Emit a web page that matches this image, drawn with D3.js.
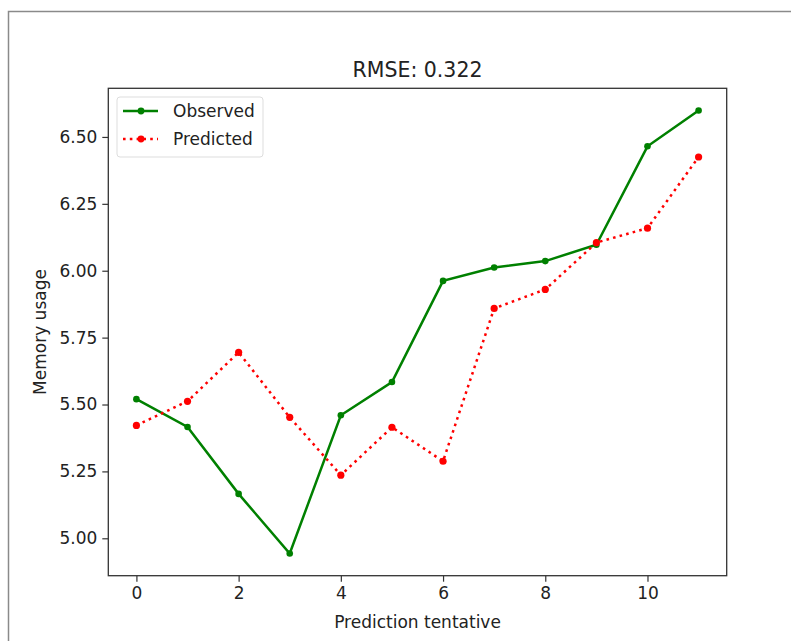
<!DOCTYPE html>
<html><head><meta charset="utf-8">
<script src="https://cdn.jsdelivr.net/npm/d3@7"></script>
<style>body{margin:0;background:#fff}svg{display:block}text{font-family:"DejaVu Sans",sans-serif;fill:#222}</style>
</head><body><div id="c"></div>
<script>
const tentatives = [0,1,2,3,4,5,6,7,8,9,10,11];
const observed  = [5.520,5.416,5.166,4.943,5.460,5.584,5.962,6.012,6.036,6.097,6.465,6.599];
const predicted = [5.422,5.512,5.695,5.452,5.236,5.415,5.288,5.859,5.930,6.105,6.159,6.425];
const xTicks = [0,2,4,6,8,10];
const yTicks = [5.00,5.25,5.50,5.75,6.00,6.25,6.50];
const titleText = "RMSE: 0.322";
const seriesNames = ["Observed","Predicted"];

const W=791,H=641;
const m={left:108.3,top:88.3,right:726.7,bottom:575.7};
const svg=d3.select("#c").append("svg").attr("width",W).attr("height",H);
svg.append("rect").attr("width",W).attr("height",H).attr("fill","#fff");
// outer frame
svg.append("path").attr("d",`M8.5,${H}V11.5H${W}`).attr("fill","none").attr("stroke","#8a8a8a").attr("stroke-width",1.5);

const xExt=d3.extent(tentatives), xPad=(xExt[1]-xExt[0])*0.05;
const x=d3.scaleLinear().domain([xExt[0]-xPad,xExt[1]+xPad]).range([m.left,m.right]);
const allY=observed.concat(predicted);
const yExt=d3.extent(allY), yPad=(yExt[1]-yExt[0])*0.05;
const y=d3.scaleLinear().domain([yExt[0]-yPad,yExt[1]+yPad]).range([m.bottom,m.top]);

const fs=17;
const xAxis=svg.append("g").attr("transform",`translate(0,${m.bottom})`)
  .call(d3.axisBottom(x).tickValues(xTicks).tickSize(6).tickPadding(5).tickFormat(d3.format("d")));
const yAxis=svg.append("g").attr("transform",`translate(${m.left},0)`)
  .call(d3.axisLeft(y).tickValues(yTicks).tickSize(6).tickPadding(5).tickFormat(d3.format(".2f")));
[xAxis,yAxis].forEach(g=>{
  g.select(".domain").remove();
  g.selectAll("line").attr("stroke","#333").attr("stroke-width",1.2);
  g.selectAll("text").attr("font-size",fs).attr("font-family","DejaVu Sans").attr("fill","#222");
});
svg.append("rect").attr("x",m.left).attr("y",m.top).attr("width",m.right-m.left).attr("height",m.bottom-m.top)
  .attr("fill","none").attr("stroke","#333").attr("stroke-width",1.3);

const line=d3.line().x((d,i)=>x(tentatives[i])).y(d=>y(d));
svg.append("path").datum(observed).attr("d",line).attr("fill","none").attr("stroke","#008000").attr("stroke-width",2.5);
svg.selectAll(".po").data(observed).enter().append("circle").attr("cx",(d,i)=>x(tentatives[i])).attr("cy",d=>y(d)).attr("r",3.3).attr("fill","#008000");
svg.append("path").datum(predicted).attr("d",line).attr("fill","none").attr("stroke","#ff0000").attr("stroke-width",2.5).attr("stroke-dasharray","2.6,4.2");
svg.selectAll(".pp").data(predicted).enter().append("circle").attr("cx",(d,i)=>x(tentatives[i])).attr("cy",d=>y(d)).attr("r",3.6).attr("fill","#ff0000");

// title & labels
svg.append("text").attr("x",(m.left+m.right)/2).attr("y",77).attr("text-anchor","middle").attr("font-size",20.5).text(titleText);
svg.append("text").attr("x",(m.left+m.right)/2).attr("y",628).attr("text-anchor","middle").attr("font-size",fs).text("Prediction tentative");
svg.append("text").attr("transform",`translate(46,${(m.top+m.bottom)/2}) rotate(-90)`).attr("text-anchor","middle").attr("font-size",fs).text("Memory usage");

// legend
const lg=svg.append("g");
lg.append("rect").attr("x",117).attr("y",97).attr("width",146).attr("height",60).attr("rx",3).attr("fill","#fff").attr("stroke","#ddd").attr("stroke-width",1);
const cols=["#008000","#ff0000"], dashes=[null,"2.6,4.2"];
seriesNames.forEach((n,i)=>{
  const cy=111+i*28;
  lg.append("line").attr("x1",123).attr("x2",158).attr("y1",cy).attr("y2",cy).attr("stroke",cols[i]).attr("stroke-width",2.5).attr("stroke-dasharray",dashes[i]);
  lg.append("circle").attr("cx",141).attr("cy",cy).attr("r",3.4).attr("fill",cols[i]);
  lg.append("text").attr("x",173).attr("y",cy+6).attr("font-size",fs).text(n);
});
</script></body></html>
